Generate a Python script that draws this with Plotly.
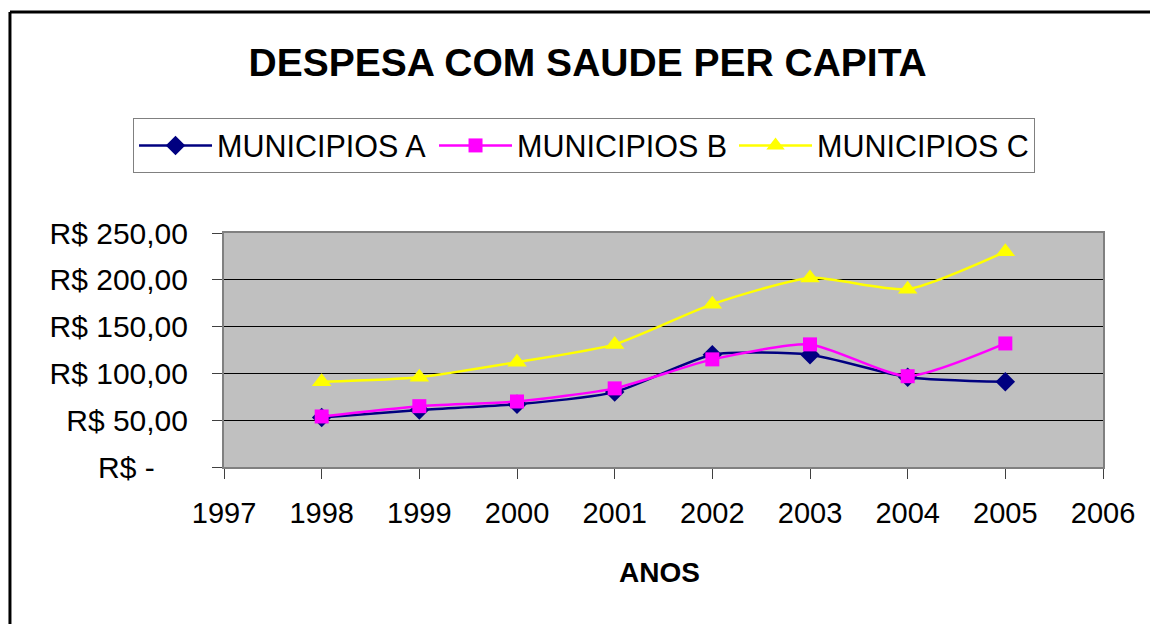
import plotly.graph_objects as go

years = [1998, 1999, 2000, 2001, 2002, 2003, 2004, 2005]
mun_a = [53, 61, 67, 80, 120, 120, 96, 91]
mun_b = [54, 65, 70, 84, 115, 131, 97, 132]
mun_c = [91, 96, 112, 131, 174, 202, 190, 230]

y_tickvals = [0, 50, 100, 150, 200, 250]
y_ticktext = ["R$ -\u00a0\u00a0\u00a0\u00a0", "R$ 50,00", "R$ 100,00", "R$ 150,00", "R$ 200,00", "R$ 250,00"]
x_tickvals = list(range(1997, 2007))

FONT = "Liberation Sans, Arial, sans-serif"

fig = go.Figure()
series = [
    ("MUNICIPIOS A", mun_a, "#000080", "diamond", 15),
    ("MUNICIPIOS B", mun_b, "#FF00FF", "square", 14),
    ("MUNICIPIOS C", mun_c, "#FFFF00", "triangle-up", 17),
]
for name, vals, col, sym, sz in series:
    fig.add_trace(go.Scatter(
        x=years, y=vals, name=name, mode="lines+markers",
        line=dict(color=col, width=2.5, shape="spline", smoothing=0.6),
        marker=dict(symbol=sym, size=sz, color=col, line=dict(width=0)),
    ))

fig.update_layout(
    width=1150, height=624,
    margin=dict(l=224, r=47, t=233, b=157),
    paper_bgcolor="white", plot_bgcolor="#C0C0C0",
    font=dict(family=FONT, size=29, color="black"),
    title=dict(text="<b>DESPESA COM SAUDE PER CAPITA</b>", x=0.511, xanchor="center",
               y=1 - 62 / 624, yanchor="middle", font=dict(size=39, family=FONT, color="black")),
    showlegend=True,
    legend=dict(orientation="h", x=-0.1035, y=1.491, xanchor="left", yanchor="top",
                bordercolor="#808080", borderwidth=1, bgcolor="white",
                font=dict(size=30.5, family=FONT), entrywidth=212, itemwidth=73),
    xaxis=dict(range=[1997, 2006], tickvals=x_tickvals, ticks="outside", ticklen=10,
               tickcolor="#404040", showgrid=False, zeroline=False,
               showline=True, linecolor="#808080", linewidth=2, mirror=True,
               ticklabelstandoff=9, tickfont=dict(size=29)),
    yaxis=dict(range=[0, 250], tickvals=y_tickvals, ticktext=y_ticktext, ticks="outside",
               ticklen=10, tickcolor="#404040", showgrid=True, gridcolor="#000000", gridwidth=1,
               zeroline=False, showline=True, linecolor="#808080", linewidth=2, mirror=True,
               ticklabelstandoff=18, tickfont=dict(size=30)),
)

fig.add_annotation(text="<b>ANOS</b>", xref="paper", yref="paper", x=0.496, y=-0.449,
                   xanchor="center", yanchor="middle", showarrow=False,
                   font=dict(size=28, family=FONT, color="black"))

# outer chart border (left and top edges visible)
fig.add_shape(type="line", xref="paper", yref="paper", x0=-0.2435, y0=-0.8, x1=-0.2435, y1=1.944,
              line=dict(color="black", width=3), layer="below")
fig.add_shape(type="line", xref="paper", yref="paper", x0=-0.2435, y0=1.944, x1=1.1, y1=1.944,
              line=dict(color="black", width=3), layer="below")

fig.write_html("out.html", config={"displayModeBar": False},
               post_script="document.body.style.margin='0';document.body.style.overflow='hidden';")
